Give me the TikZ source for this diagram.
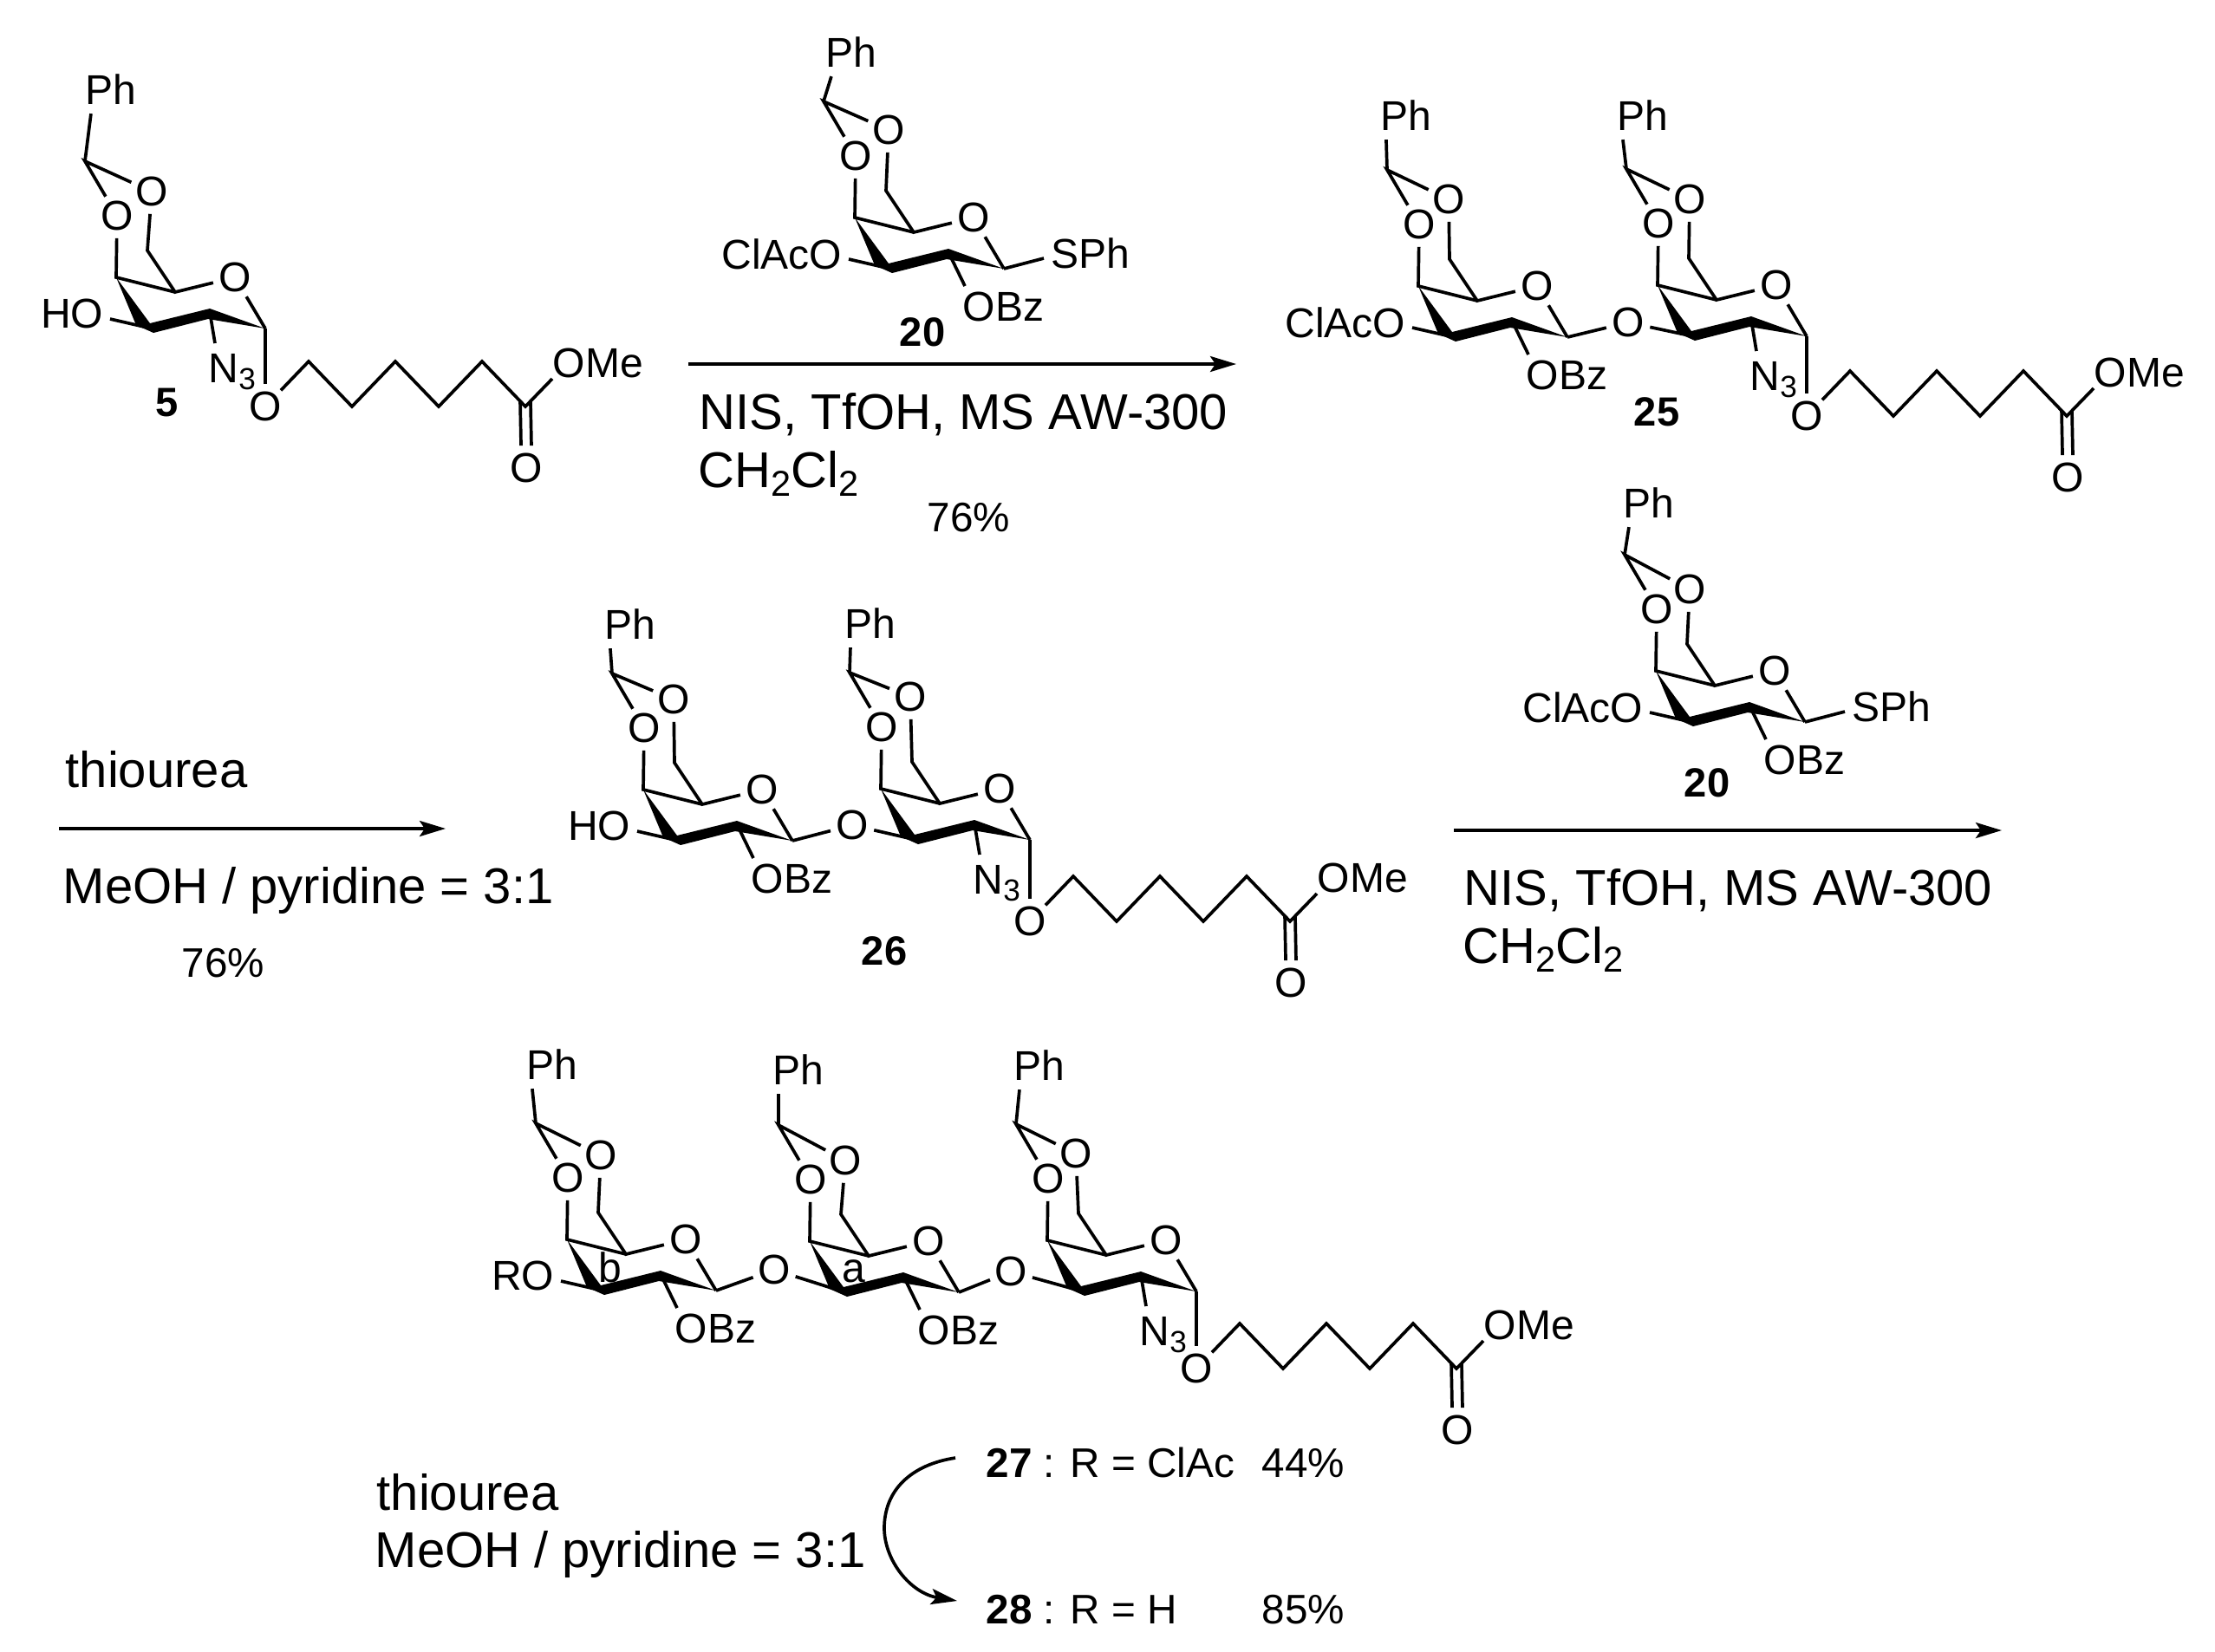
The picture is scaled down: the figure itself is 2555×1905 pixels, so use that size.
\documentclass[tikz,border=0pt]{standalone}
\usepackage{fontspec}
\setmainfont{Liberation Sans}
\usetikzlibrary{arrows.meta}
\tikzset{
  lab/.style={inner sep=0pt,font=\fontsize{13.66pt}{16pt}\selectfont},
  atom/.style={lab,circle},
  num/.style={inner sep=0pt,font=\fontsize{13.4pt}{16pt}\selectfont\bfseries},
  rea/.style={inner sep=0pt,anchor=base west,font=\fontsize{16.5pt}{20pt}\selectfont},
  yld/.style={inner sep=0pt,anchor=base west,font=\fontsize{13.55pt}{16pt}\selectfont},
  bond/.style={line width=1.05pt,line join=miter},
  rxn/.style={line width=1.05pt,-{Stealth[length=0.3cm,width=0.18cm,inset=0.06cm]}}
}
\newcommand{\subsm}[1]{\raisebox{-2.4pt}{\fontsize{10pt}{12pt}\selectfont #1}}
\newcommand{\sublg}[1]{\raisebox{-3.1pt}{\fontsize{11.8pt}{14pt}\selectfont #1}}
% prefix, C1 x, C1 y, Ph dx, Ph dy, O2 dx, O2 dy
\newcommand{\sugarunit}[7]{%
  \begin{scope}[shift={(#2,#3)}]
    \coordinate (#1c1) at (0,0);
    \coordinate (#1c2) at (-64,-19);
    \coordinate (#1c3) at (-131,0);
    \coordinate (#1c4) at (-172,-59);
    \coordinate (#1c5) at (-104,-42);
    \coordinate (#1c6) at (-136,-90);
    \coordinate (#1ac) at (-208,-193);
    \node[atom] (#1or) at (-35,-59) {O};
    \node[atom] (#1o4) at (-171,-130) {O};
    \node[atom] (#1o6) at (#6,#7) {O};
    \node[lab] (#1ph) at (#4,#5) {Ph};
    \coordinate (#1pe) at ([xshift=2pt,yshift=-2.85pt]#1ph.south west);
    \fill (-172,-59) -- (-133,-6) -- (-64,-23) -- (0,0) -- (-66,-11)
      -- (-129,5) -- (-149,-4) -- cycle;
    \draw[bond] (#1pe) -- (#1ac);
    \draw[bond] (#1o4) -- (#1ac) -- (#1o6);
    \draw[bond] (#1o4) -- (#1c4) -- (#1c5);
    \draw[bond] (#1o6) -- (#1c6) -- (#1c5) -- (#1or);
    \draw[bond] (#1or) -- (#1c1);
  \end{scope}}
% substituent on C2: OBz
\newcommand{\obzgroup}[1]{%
  \begin{scope}[shift={(#1c1)}]
    \coordinate (#1ze) at (-45,20);
    \node[lab,anchor=west] (#1obz) at (-48,44) {OBz};
    \draw[bond] (#1c2) -- (#1ze);
  \end{scope}}
% substituent on C2: N3
\newcommand{\azide}[1]{%
  \begin{scope}[shift={(#1c1)}]
    \coordinate (#1ne) at (-58,17);
    \node[lab,anchor=base west] (#1n3) at (-66,62.5) {N\subsm{3}};
    \draw[bond] (#1c2) -- (#1ne);
  \end{scope}}
% substituent on C3: text ending in O
\newcommand{\threesub}[2]{%
  \begin{scope}[shift={(#1c1)}]
    \coordinate (#1te) at (-179,-11);
    \node[lab,anchor=east] (#1ro) at (-186,-17) {#2};
    \draw[bond] (#1c3) -- (#1te);
  \end{scope}}
\newcommand{\thiophenyl}[1]{%
  \begin{scope}[shift={(#1c1)}]
    \coordinate (#1se) at (46,-12);
    \node[lab,anchor=west] (#1sph) at (54,-18) {SPh};
    \draw[bond] (#1c1) -- (#1se);
  \end{scope}}
% prefix, anomeric O x, y
\newcommand{\esterchain}[3]{%
  \begin{scope}[shift={(#2,#3)}]
    \node[atom] (#1oa) at (0,0) {O};
    \coordinate (#1p1) at (50,-52);
    \coordinate (#1p2) at (100,0);
    \coordinate (#1p3) at (150,-52);
    \coordinate (#1p4) at (200,0);
    \coordinate (#1p5) at (250,-52);
    \coordinate (#1p6) at (300,0);
    \coordinate (#1me) at (331,-32);
    \node[lab,anchor=west] (#1ome) at (331,-50) {OMe};
    \node[atom] (#1oc) at (301,71) {O};
    \draw[bond] (#1c1) -- (#1oa);
    \draw[bond] (#1oa) -- (#1p1) -- (#1p2) -- (#1p3) -- (#1p4) -- (#1p5) -- (#1p6) -- (#1me);
    \draw[bond] ([xshift=-1.7pt,yshift=1.7pt]#1p6) -- ([xshift=-1.7pt]#1oc.north);
    \draw[bond] ([xshift=1.7pt,yshift=1.7pt]#1p6) -- ([xshift=1.7pt]#1oc.north);
  \end{scope}}
% left prefix, right prefix, O x, y
\newcommand{\linkoxygen}[4]{%
  \node[atom] (#1#2l) at (#3,#4) {O};
  \draw[bond] (#1c1) -- (#1#2l) -- (#2c3);}
\begin{document}
\begin{tikzpicture}[x=0.01cm,y=-0.01cm]
\useasboundingbox (0,0) rectangle (2555,1905);
% compound 5
\sugarunit{m}{306}{379}{-178}{-276}{-131}{-158}
\threesub{m}{HO}
\azide{m}
\esterchain{m}{306}{469}
\node[num] (n5) at (193,465) {5};
% compound 20 top
\sugarunit{d}{1158}{310}{-176}{-250}{-133}{-160}
\threesub{d}{ClAcO}
\obzgroup{d}
\thiophenyl{d}
\node[num] (n20a) at (1064,383) {20};
\coordinate (a1s) at (794,420);
\coordinate (a1e) at (1426,420);
\draw[rxn] (a1s) -- (a1e);
\node[rea] (r1a) at (806,495) {NIS, TfOH, MS AW-300};
\node[rea] (r1b) at (805,562) {CH\sublg{2}Cl\sublg{2}};
\node[yld] (y1) at (1069,613) {76\%};
% compound 25
\sugarunit{e}{1808}{389}{-186}{-256}{-137}{-159}
\sugarunit{f}{2084}{388}{-189}{-255}{-135}{-158}
\threesub{e}{ClAcO}
\obzgroup{e}
\linkoxygen{e}{f}{1878}{372}
\azide{f}
\esterchain{f}{2084}{480}
\node[num] (n25) at (1911,475) {25};
% arrow 2
\coordinate (a2s) at (68,956);
\coordinate (a2e) at (514,956);
\draw[rxn] (a2s) -- (a2e);
\node[rea] (r2a) at (75,908) {thiourea};
\node[rea] (r2b) at (72,1042) {MeOH / pyridine = 3:1};
\node[yld] (y2) at (209,1127) {76\%};
% compound 26
\sugarunit{g}{914}{970}{-187}{-250}{-137}{-163}
\sugarunit{h}{1188}{969}{-184}{-250}{-138}{-165}
\threesub{g}{HO}
\obzgroup{g}
\linkoxygen{g}{h}{983}{952}
\azide{h}
\esterchain{h}{1188}{1063}
\node[num] (n26) at (1020,1097) {26};
% compound 20 second
\sugarunit{i}{2082}{833}{-180}{-253}{-133}{-153}
\threesub{i}{ClAcO}
\obzgroup{i}
\thiophenyl{i}
\node[num] (n20b) at (1969,903) {20};
\coordinate (a3s) at (1677,958);
\coordinate (a3e) at (2309,958);
\draw[rxn] (a3s) -- (a3e);
\node[rea] (r3a) at (1688,1044) {NIS, TfOH, MS AW-300};
\node[rea] (r3b) at (1687,1111) {CH\sublg{2}Cl\sublg{2}};
% compound 27/28
\sugarunit{j}{826}{1489}{-189}{-261}{-133}{-156}
\sugarunit{k}{1106}{1491}{-185}{-257}{-131}{-152}
\sugarunit{l}{1380}{1490}{-181}{-261}{-139}{-159}
\threesub{j}{RO}
\obzgroup{j}
\obzgroup{k}
\linkoxygen{j}{k}{893}{1465}
\linkoxygen{k}{l}{1166}{1467}
\azide{l}
\esterchain{l}{1380}{1579}
\node[lab] (tb) at (704,1462) {b};
\node[lab] (ta) at (985,1467) {a};
% bottom
\node[rea] (r4a) at (434,1742) {thiourea};
\node[rea] (r4b) at (432,1808) {MeOH / pyridine = 3:1};
\node[yld] (l27) at (1137,1704) {\textbf{27} : R = ClAc};
\node[yld] (y27) at (1455,1704) {44\%};
\node[yld] (l28) at (1137,1873) {\textbf{28} : R = H};
\node[yld] (y28) at (1455,1873) {85\%};
\coordinate (cs) at (1102,1682);
\coordinate (cm) at (1020,1763);
\coordinate (ce) at (1104,1847);
\draw[rxn] (cs) .. controls (1050,1690) and (1020,1720) .. (cm) .. controls (1020,1800) and (1050,1838) .. (ce);
\end{tikzpicture}
\end{document}
